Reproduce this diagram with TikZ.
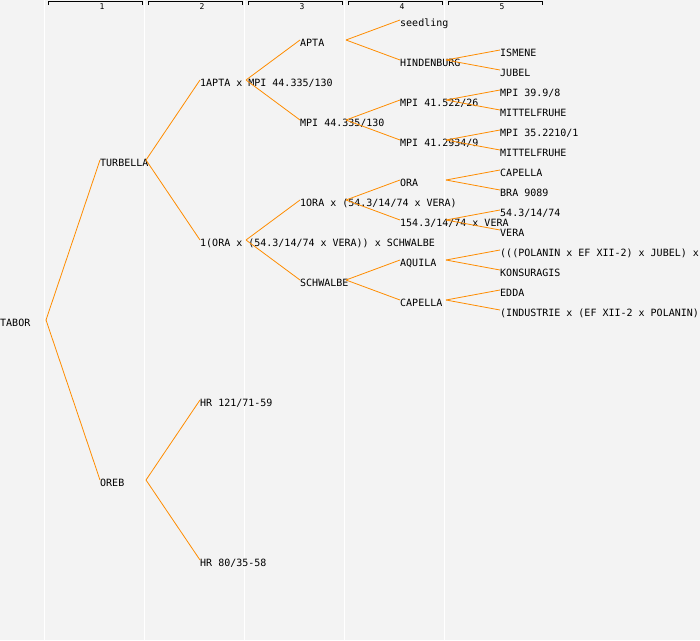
\documentclass[tikz,border=0pt]{standalone}
\usepackage{fontspec}
\setmonofont{DejaVu Sans Mono}
\definecolor{bg}{HTML}{F3F3F3}
\definecolor{edgeor}{HTML}{FF8C00}
\begin{document}
\begin{tikzpicture}[x=1pt,y=-1pt,
  lbl/.style={font=\ttfamily\fontsize{10}{12}\selectfont, inner sep=0pt, anchor=west, text height=12pt, text depth=0pt},
  link/.style={draw=edgeor, line width=0.8pt},
  colline/.style={draw=white, line width=1.2pt},
  bracket/.style={draw=black, line width=0.9pt},
  colnum/.style={font=\ttfamily\fontsize{8}{9}\selectfont, inner sep=0pt}]
\useasboundingbox (0,0) rectangle (700,640);
\fill[bg] (0,0) rectangle (700,640);
\clip (0,0) rectangle (700,640);
% column separators
\foreach \k in {0,...,4} {
  \draw[colline] (44.5+100*\k,0) -- (44.5+100*\k,640);
}
% header brackets
\foreach \k in {1,...,5} {
  \draw[bracket] (48+100*\k-100,5) -- (48+100*\k-100,1.5) -- (142+100*\k-100,1.5) -- (142+100*\k-100,5);
  \node[colnum] (h\k) at (102+100*\k-100,7) {\k};
}
% level 0
\node[lbl] (tabor) at (0,320) {TABOR};
% level 1
\node[lbl] (turbella) at (100,160) {TURBELLA};
\node[lbl] (oreb) at (100,480) {OREB};
% level 2
\node[lbl] (n1apta) at (200,80) {1APTA x MPI 44.335/130};
\node[lbl] (n1ora) at (200,240) {1(ORA x (54.3/14/74 x VERA)) x SCHWALBE};
\node[lbl] (hr121) at (200,400) {HR 121/71-59};
\node[lbl] (hr80) at (200,560) {HR 80/35-58};
% level 3
\node[lbl] (apta) at (300,40) {APTA};
\node[lbl] (mpi44) at (300,120) {MPI 44.335/130};
\node[lbl] (ora1) at (300,200) {1ORA x (54.3/14/74 x VERA)};
\node[lbl] (schwalbe) at (300,280) {SCHWALBE};
% level 4
\node[lbl] (seedling) at (400,20) {seedling};
\node[lbl] (hindenburg) at (400,60) {HINDENBURG};
\node[lbl] (mpia) at (400,100) {MPI 41.522/26};
\node[lbl] (mpib) at (400,140) {MPI 41.2934/9};
\node[lbl] (ora) at (400,180) {ORA};
\node[lbl] (vcross) at (400,220) {154.3/14/74 x VERA};
\node[lbl] (aquila) at (400,260) {AQUILA};
\node[lbl] (capella) at (400,300) {CAPELLA};
% level 5
\node[lbl] (ismene) at (500,50) {ISMENE};
\node[lbl] (jubel) at (500,70) {JUBEL};
\node[lbl] (mpic) at (500,90) {MPI 39.9/8};
\node[lbl] (mittela) at (500,110) {MITTELFRUHE};
\node[lbl] (mpid) at (500,130) {MPI 35.2210/1};
\node[lbl] (mittelb) at (500,150) {MITTELFRUHE};
\node[lbl] (capellab) at (500,170) {CAPELLA};
\node[lbl] (bra) at (500,190) {BRA 9089};
\node[lbl] (sfive) at (500,210) {54.3/14/74};
\node[lbl] (vera) at (500,230) {VERA};
\node[lbl] (polanin) at (500,250) {(((POLANIN x EF XII-2) x JUBEL) x};
\node[lbl] (konsuragis) at (500,270) {KONSURAGIS};
\node[lbl] (edda) at (500,290) {EDDA};
\node[lbl] (industrie) at (500,310) {(INDUSTRIE x (EF XII-2 x POLANIN))};
% connectors
\foreach \p/\c in {tabor/turbella, tabor/oreb,
  turbella/n1apta, turbella/n1ora, oreb/hr121, oreb/hr80,
  n1apta/apta, n1apta/mpi44, n1ora/ora1, n1ora/schwalbe,
  apta/seedling, apta/hindenburg, mpi44/mpia, mpi44/mpib,
  ora1/ora, ora1/vcross, schwalbe/aquila, schwalbe/capella,
  hindenburg/ismene, hindenburg/jubel, mpia/mpic, mpia/mittela,
  mpib/mpid, mpib/mittelb, ora/capellab, ora/bra,
  vcross/sfive, vcross/vera, aquila/polanin, aquila/konsuragis,
  capella/edda, capella/industrie} {
  \draw[link] ([xshift=46pt]\p.west) -- (\c.west);
}
\end{tikzpicture}
\end{document}
